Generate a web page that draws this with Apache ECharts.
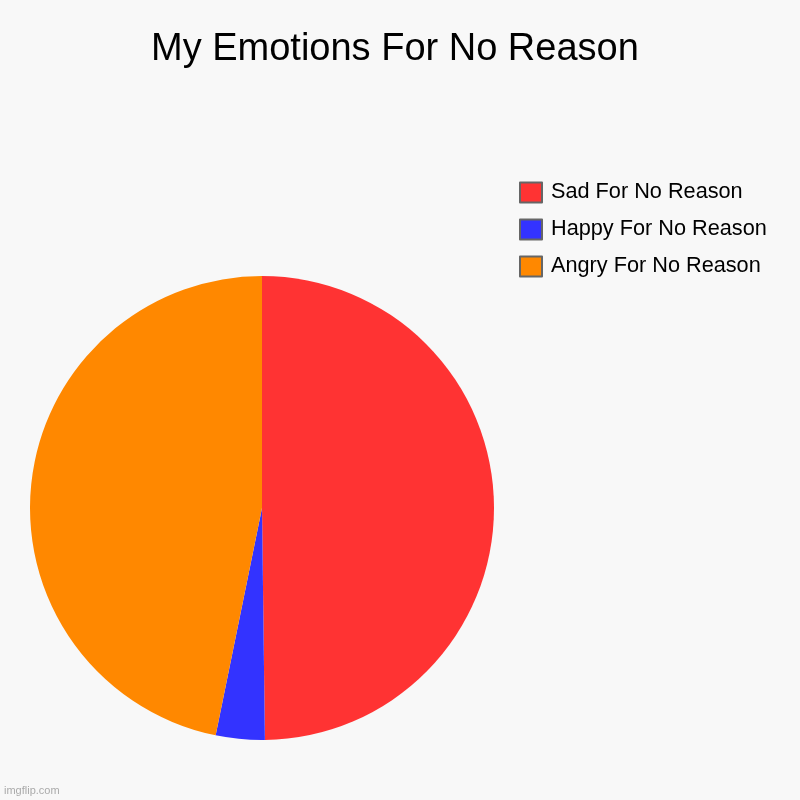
<!DOCTYPE html>
<html>
<head>
<meta charset="utf-8">
<script src="https://cdn.jsdelivr.net/npm/echarts@6/dist/echarts.min.js"></script>
<style>
html,body{margin:0;padding:0;background:#f8f8f8;}
#chart{width:800px;height:800px;}
</style>
</head>
<body>
<div id="chart"></div>
<script>
const titleText = 'My Emotions For No Reason';
const categories = ['Sad For No Reason', 'Happy For No Reason', 'Angry For No Reason'];
const values = [49.8, 3.4, 46.8];
const colors = ['#ff3333', '#3333ff', '#ff8800'];

const chart = echarts.init(document.getElementById('chart'), null, {renderer: 'canvas'});
chart.setOption({
  backgroundColor: '#f8f8f8',
  animation: false,
  title: [{
    text: titleText,
    left: 151,
    top: 31,
    padding: 0,
    textStyle: {fontFamily: 'Liberation Sans, Arial, sans-serif', fontSize: 38, fontWeight: 'normal', color: '#000'}
  }, {
    text: 'imgflip.com',
    left: 4,
    top: 785,
    padding: 0,
    textStyle: {fontFamily: 'Liberation Sans, Arial, sans-serif', fontSize: 11, fontWeight: 'normal', color: '#aaaaaa'}
  }],
  legend: {
    orient: 'vertical',
    left: 519,
    top: 181.5,
    padding: 0,
    itemWidth: 22,
    itemHeight: 20,
    itemGap: 15,
    icon: 'rect',
    data: categories,
    itemStyle: {borderColor: '#666666', borderWidth: 2},
    textStyle: {fontFamily: 'Liberation Sans, Arial, sans-serif', fontSize: 21.7, lineHeight: 18, color: '#000', padding: [4, 0, 0, 4]}
  },
  series: [{
    type: 'pie',
    center: [262, 508],
    radius: 232,
    startAngle: 90,
    clockwise: true,
    label: {show: false},
    labelLine: {show: false},
    emphasis: {disabled: true},
    itemStyle: {borderWidth: 0},
    data: categories.map((c, i) => ({name: c, value: values[i], itemStyle: {color: colors[i]}}))
  }]
});
</script>
</body>
</html>
